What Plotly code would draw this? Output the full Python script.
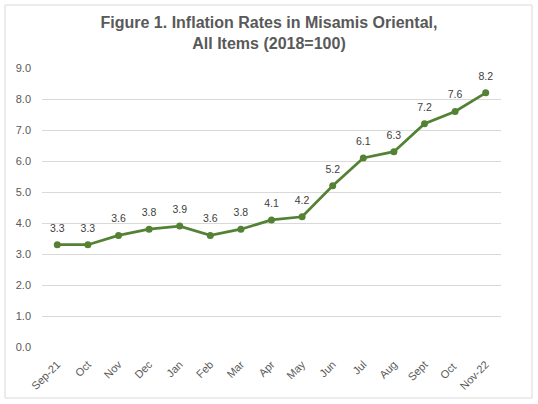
import plotly.graph_objects as go

months = ["Sep-21", "Oct", "Nov", "Dec", "Jan", "Feb", "Mar", "Apr", "May",
          "Jun", "Jul", "Aug", "Sept", "Oct ", "Nov-22"]
rates = [3.3, 3.3, 3.6, 3.8, 3.9, 3.6, 3.8, 4.1, 4.2, 5.2, 6.1, 6.3, 7.2, 7.6, 8.2]
y_ticks = [0, 1, 2, 3, 4, 5, 6, 7, 8, 9]

W, H = 538, 404
ml, mr, mt, mb = 42, 37, 68, 57

fig = go.Figure()
fig.add_trace(go.Scatter(
    x=months, y=rates, mode="lines+markers",
    line=dict(color="#548235", width=2.75),
    marker=dict(color="#548235", size=7),
    hoverinfo="skip"))
fig.add_trace(go.Scatter(
    x=months, y=rates, mode="markers+text",
    marker=dict(color="rgba(0,0,0,0)", size=15),
    text=[f"{v:.1f}" for v in rates], textposition="top center",
    textfont=dict(family="Liberation Sans, Arial", size=10.5, color="#404040"),
    cliponaxis=False, hoverinfo="skip"))

pw = W - ml - mr
ph = H - mt - mb
fig.add_shape(type="rect", xref="paper", yref="paper",
              x0=(5 - ml) / pw, x1=(532 - ml) / pw,
              y0=(H - mb - 398) / ph, y1=(H - mb - 5) / ph,
              line=dict(color="#d9d9d9", width=1), layer="above")

fig.update_layout(
    width=W, height=H, margin=dict(l=ml, r=mr, t=mt, b=mb),
    paper_bgcolor="white", plot_bgcolor="white", showlegend=False,
    title=dict(text="<b>Figure 1. Inflation Rates in Misamis Oriental,<br>All Items (2018=100)</b>",
               x=0.5, xref="container", y=1 - 28 / H, yanchor="middle",
               font=dict(family="Liberation Sans, Arial", size=16, color="#595959")),
    xaxis=dict(type="category", showgrid=False, showline=False, ticks="",
               tickangle=-45, range=[-0.5, len(months) - 0.5], ticklabelstandoff=8,
               tickfont=dict(family="Liberation Sans, Arial", size=11, color="#595959")),
    yaxis=dict(range=[0, 9], tickvals=y_ticks, ticktext=[f"{v:.1f}" for v in y_ticks],
               showgrid=True, gridcolor="#d9d9d9", gridwidth=1, zeroline=False,
               showline=False, ticks="", ticklabelstandoff=10,
               tickfont=dict(family="Liberation Sans, Arial", size=11, color="#595959")),
)
fig.write_html("out.html", config={"displayModeBar": False},
               post_script="document.body.style.margin='0';document.body.style.overflow='hidden';")
